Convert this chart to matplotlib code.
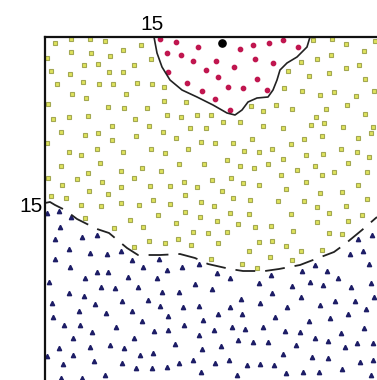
import matplotlib
matplotlib.use("Agg")
import matplotlib.pyplot as plt
import numpy as np

# yellow-green squares (middle zone)
square_x = [5.3, 6.9, 8.8, 10.3, 13.9, 6.9, 8.9, 12.1, 4.5, 10.8, 14.9, 8.2, 9.6, 13.2, 4.9, 6.8,
            10.7, 12.1, 5.5, 8.1, 9.7, 11.1, 13.5, 15.0, 16.2, 7.0, 8.4, 12.4, 4.6, 10.6, 12.2, 14.5,
            16.2, 5.1, 6.7, 8.6, 13.3, 11.0, 16.5, 17.9, 18.4,
            31.1, 33.0, 34.4, 37.3, 36.2, 32.9, 31.5, 29.9, 34.4, 35.7, 28.6, 32.7, 30.7, 36.3, 28.2,
            30.0, 33.2, 37.2, 31.8, 35.4, 27.4, 24.9, 34.5, 29.0, 32.4, 26.1, 20.9, 19.5, 36.3, 31.4,
            22.1, 23.8, 32.2, 18.8, 20.4, 26.1, 28.1, 34.1, 37.1,
            5.9, 8.3, 9.6, 14.7, 13.4, 16.1, 17.4, 11.0, 4.5, 6.7, 7.9, 9.5, 12.1, 14.9, 16.3, 18.6,
            5.9, 9.8, 8.6, 11.9, 14.0, 15.9, 17.7, 7.5, 13.2, 4.6,
            30.9, 36.9, 19.9, 21.3, 23.1, 25.0, 28.9, 30.2, 32.0, 35.6, 24.2, 25.7, 27.0, 30.4, 32.1,
            33.9, 35.5, 36.7, 20.2, 22.5, 23.8, 25.2, 26.6, 28.1, 29.5, 31.3, 34.6, 33.2, 36.5, 27.9,
            32.0, 22.9, 21.0,
            6.0, 10.0, 11.9, 14.8, 16.8, 18.2, 8.7, 10.6, 4.9, 6.4, 7.9, 9.9, 11.9, 13.7, 15.1, 16.8,
            18.3, 15.6, 18.3, 8.3, 12.8, 14.1, 17.4, 11.2, 14.7, 16.3, 17.6, 13.2,
            19.5, 24.1, 25.7, 30.4, 28.4, 35.6, 22.0, 31.8, 34.0, 19.9, 21.2, 23.1, 24.8, 27.6, 30.2,
            31.5, 34.4, 36.5, 19.8, 22.8, 24.7, 28.9, 32.7, 36.0, 21.5, 23.6, 25.3, 26.9, 31.5, 34.6,
            19.1, 20.6, 22.5, 29.1, 32.7, 34.0, 21.6, 25.7, 27.0, 18.9, 24.7, 28.4, 29.9, 32.0, 20.9,
            26.8, 29.0, 24.0, 25.5]
square_y = [31.2, 31.6, 31.6, 31.4, 31.0, 30.3, 30.2, 30.5, 29.7, 29.9, 29.6, 29.0, 29.1, 29.0, 28.4, 28.1,
            28.3, 28.3, 27.1, 27.3, 27.1, 27.1, 27.2, 27.1, 26.8, 26.1, 25.7, 26.1, 25.1, 24.8, 24.7, 24.7,
            25.4, 23.6, 23.8, 23.9, 23.6, 22.9, 24.0, 23.8, 25.3,
            31.5, 31.6, 31.1, 31.4, 30.4, 30.0, 29.6, 29.3, 28.7, 29.0, 28.4, 28.2, 27.9, 27.6, 26.7,
            26.4, 26.3, 26.4, 26.0, 25.9, 25.0, 24.9, 25.0, 24.6, 24.6, 24.4, 24.0, 24.0, 24.1, 23.8,
            23.3, 23.3, 23.2, 22.7, 22.7, 22.9, 22.7, 22.8, 22.8,
            22.3, 22.0, 22.2, 22.9, 21.9, 22.3, 21.7, 21.5, 21.2, 20.3, 20.0, 20.6, 20.3, 20.6, 20.2, 20.6,
            18.9, 19.2, 18.2, 18.4, 18.7, 18.4, 19.1, 17.6, 17.7, 17.7,
            23.0, 22.2, 21.3, 21.2, 21.2, 21.6, 21.1, 21.6, 21.9, 21.7, 20.4, 20.3, 20.6, 20.0, 20.1,
            20.6, 20.3, 19.8, 19.1, 19.5, 18.9, 18.7, 19.1, 19.6, 18.5, 18.9, 19.2, 18.3, 18.3, 18.0,
            18.0, 17.7, 17.5,
            17.0, 17.3, 16.8, 16.9, 16.9, 17.3, 16.4, 16.1, 15.9, 15.7, 15.0, 14.9, 15.2, 15.0, 15.5, 15.1,
            16.0, 14.0, 14.3, 13.7, 13.5, 12.8, 13.2, 12.7, 11.4, 11.2, 11.6, 10.8,
            16.8, 17.2, 17.0, 17.3, 16.6, 17.0, 16.4, 16.2, 16.3, 15.3, 14.9, 15.7, 15.5, 15.4, 15.4,
            14.8, 14.9, 15.6, 13.8, 14.2, 14.1, 14.1, 14.2, 14.0, 13.4, 13.1, 12.8, 12.9, 13.3, 13.4,
            12.3, 12.2, 12.3, 12.4, 12.2, 12.1, 11.2, 11.3, 11.4, 11.0, 10.4, 10.9, 10.4, 10.5, 9.6,
            9.8, 9.5, 9.1, 8.7]

# red dots (top zone)
dot_x = [15.8, 17.4, 16.5, 17.9, 16.6, 18.5, 19.6, 19.1, 21.4, 23.8, 25.1, 26.7, 28.1, 29.6,
         25.3, 27.1, 23.2, 20.4, 21.6, 25.5, 22.6, 24.1, 26.5, 20.0, 21.3, 22.8]
dot_y = [31.6, 31.3, 30.2, 30.0, 28.3, 27.2, 30.8, 29.4, 29.4, 30.6, 31.0, 31.2, 31.5, 30.8,
         29.6, 29.2, 28.8, 28.5, 27.8, 27.6, 26.8, 26.7, 26.5, 26.4, 25.6, 24.5]

# navy triangles (bottom zone)
tri_x = [4.5, 5.7, 6.9, 5.8, 5.3, 8.0, 9.5, 6.7, 8.8, 10.5, 11.9, 5.3, 6.8, 9.5, 10.6, 13.0, 14.1,
         15.7, 16.5, 18.0, 8.3, 12.6, 15.5,
         19.7, 21.5, 26.9, 30.0, 31.3, 32.5, 35.6, 37.0, 34.8, 36.1, 36.7, 33.6, 22.8,
         4.7, 9.9, 11.3, 13.6, 16.0, 17.7, 6.7, 8.2, 5.0, 9.3, 12.0, 14.6, 15.8, 18.1, 7.7, 10.4,
         13.0, 5.1, 16.6, 14.0, 6.2, 7.8, 11.4, 18.2, 9.0, 15.2, 16.6, 7.1, 13.2, 17.3, 5.7, 8.8,
         10.8, 12.2, 4.5, 7.1, 13.8, 15.1, 9.2, 12.0, 6.1, 13.4, 15.0, 16.5, 17.7, 5.9, 8.0, 10.3,
         19.3, 21.0, 25.7, 29.0, 30.8, 32.1, 34.9, 36.9, 27.0, 23.9, 25.8, 29.9, 33.3, 35.3, 37.2,
         19.7, 22.8, 28.5, 31.8, 36.4, 21.6, 24.0, 27.3, 34.6, 20.1, 30.7, 32.8, 23.0, 26.1, 21.2,
         24.3, 28.3, 29.8, 36.2, 19.7, 33.9, 23.6, 25.1, 26.6, 31.3, 32.6, 35.5, 37.1, 21.9, 29.4,
         34.3, 20.0, 28.1, 31.0, 32.6, 19.1, 21.3, 22.7, 24.5, 25.8, 27.2, 35.8, 37.1, 19.9, 23.5,
         28.4, 30.1, 31.7, 34.0, 36.9]
tri_y = [14.2, 14.4, 13.8, 12.8, 11.6, 11.8, 12.0, 10.6, 10.2, 10.1, 10.4, 9.6, 8.8, 8.3, 8.3, 9.5, 8.8,
         9.6, 8.5, 8.8, 7.7, 7.8, 7.7,
         9.1, 8.2, 8.0, 8.4, 9.0, 8.4, 11.6, 12.0, 10.1, 10.4, 9.1, 7.7, 7.7,
         7.3, 6.8, 6.7, 6.8, 6.3, 6.3, 6.2, 5.9, 5.2, 5.1, 5.4, 5.5, 4.9, 4.8, 4.4, 4.2,
         4.4, 3.8, 3.9, 3.4, 3.0, 3.0, 2.8, 3.0, 2.3, 2.4, 2.5, 1.7, 1.7, 1.1, 0.7, 0.8,
         1.0, 0.7, -0.1, 0.0, 0.0, 0.2, -0.6, -0.8, -0.9, -1.3, -1.3, -1.2, -0.8, -2.3, -2.3, -2.0,
         7.1, 6.6, 7.2, 6.9, 7.3, 7.0, 6.8, 7.2, 6.2, 5.6, 5.2, 5.8, 5.4, 5.4, 5.8,
         4.9, 4.8, 4.8, 5.0, 4.6, 4.1, 4.1, 3.8, 4.1, 3.5, 3.4, 3.7, 2.8, 2.8, 2.5,
         2.6, 2.4, 2.3, 2.7, 2.0, 2.2, 1.5, 1.3, 1.3, 1.7, 1.4, 1.2, 1.2, 0.9, 1.0,
         0.8, 0.6, 0.1, -0.2, -0.3, -0.5, -0.8, -0.5, -1.0, -0.9, -1.0, -0.7, -0.5, -1.7, -2.0,
         -1.8, -1.7, -1.7, -1.4, -2.0]

# marked point
marker_x = [22.0]
marker_y = [31.2]

# solid boundary around the red zone
solid_x = [15.2, 15.5, 16.0, 16.8, 18.0, 19.5, 21.1, 22.5, 23.3, 24.0, 24.6, 25.5, 26.6, 27.1,
           27.5, 27.8, 28.5, 29.5, 30.5, 30.8]
solid_y = [31.8, 30.2, 28.8, 27.5, 26.5, 25.8, 25.0, 24.2, 24.0, 24.5, 25.3, 25.7, 25.8, 26.5,
           27.5, 28.5, 29.2, 29.8, 30.8, 31.8]

# dashed boundary between squares and triangles
dash_x = [4.3, 4.8, 5.3, 6.3, 7.5, 9.5, 10.7, 12.5, 13.6, 15.8, 17.8, 19.3, 20.6, 22.8, 24.1,
          26.3, 27.7, 29.8, 31.1, 33.2, 34.3, 36.0, 37.5]
dash_y = [15.2, 15.3, 15.0, 14.5, 13.6, 12.6, 12.2, 10.7, 10.0, 10.0, 10.1, 9.7, 9.1, 8.6, 8.4,
          8.4, 8.6, 9.0, 9.5, 10.3, 11.1, 12.5, 13.8]

x_ticks = [15]
y_ticks = [15]

fig = plt.figure(figsize=(3.77, 3.80), dpi=100)
ax = fig.add_axes([45 / 377, 0, 332 / 377, 343 / 380])

ax.plot(square_x, square_y, 's', ms=3.4, mfc='#dfe35c', mec='#a3a852', mew=0.8, ls='none')
ax.plot(dot_x, dot_y, 'o', ms=3.1, color='#c0164f', ls='none')
ax.plot(tri_x, tri_y, '^', ms=3.1, color='#1d1d66', ls='none')
ax.plot(marker_x, marker_y, 'o', ms=5.2, color='black', ls='none')

ax.plot(solid_x, solid_y, color='#222222', lw=1.2, solid_joinstyle='round')
dl, = ax.plot(dash_x, dash_y, color='#222222', lw=1.3)
dl.set_dashes((11, 5.5))

ax.set_xlim(4.3, 37.5)
ax.set_ylim(-2.5, 31.8)

for s in ['right', 'bottom']:
    ax.spines[s].set_visible(False)
for s in ['top', 'left']:
    ax.spines[s].set_linewidth(1.6)
    ax.spines[s].set_color('#111111')

ax.xaxis.tick_top()
ax.set_xticks(x_ticks)
ax.set_yticks(y_ticks)
ax.set_xticklabels([str(t) for t in x_ticks])
ax.set_yticklabels([str(t) for t in y_ticks])
ax.tick_params(length=0, labelsize=15, pad=2)
for lab in ax.get_xticklabels() + ax.get_yticklabels():
    lab.set_family('Liberation Sans')

fig.savefig('out.png', dpi=100)
